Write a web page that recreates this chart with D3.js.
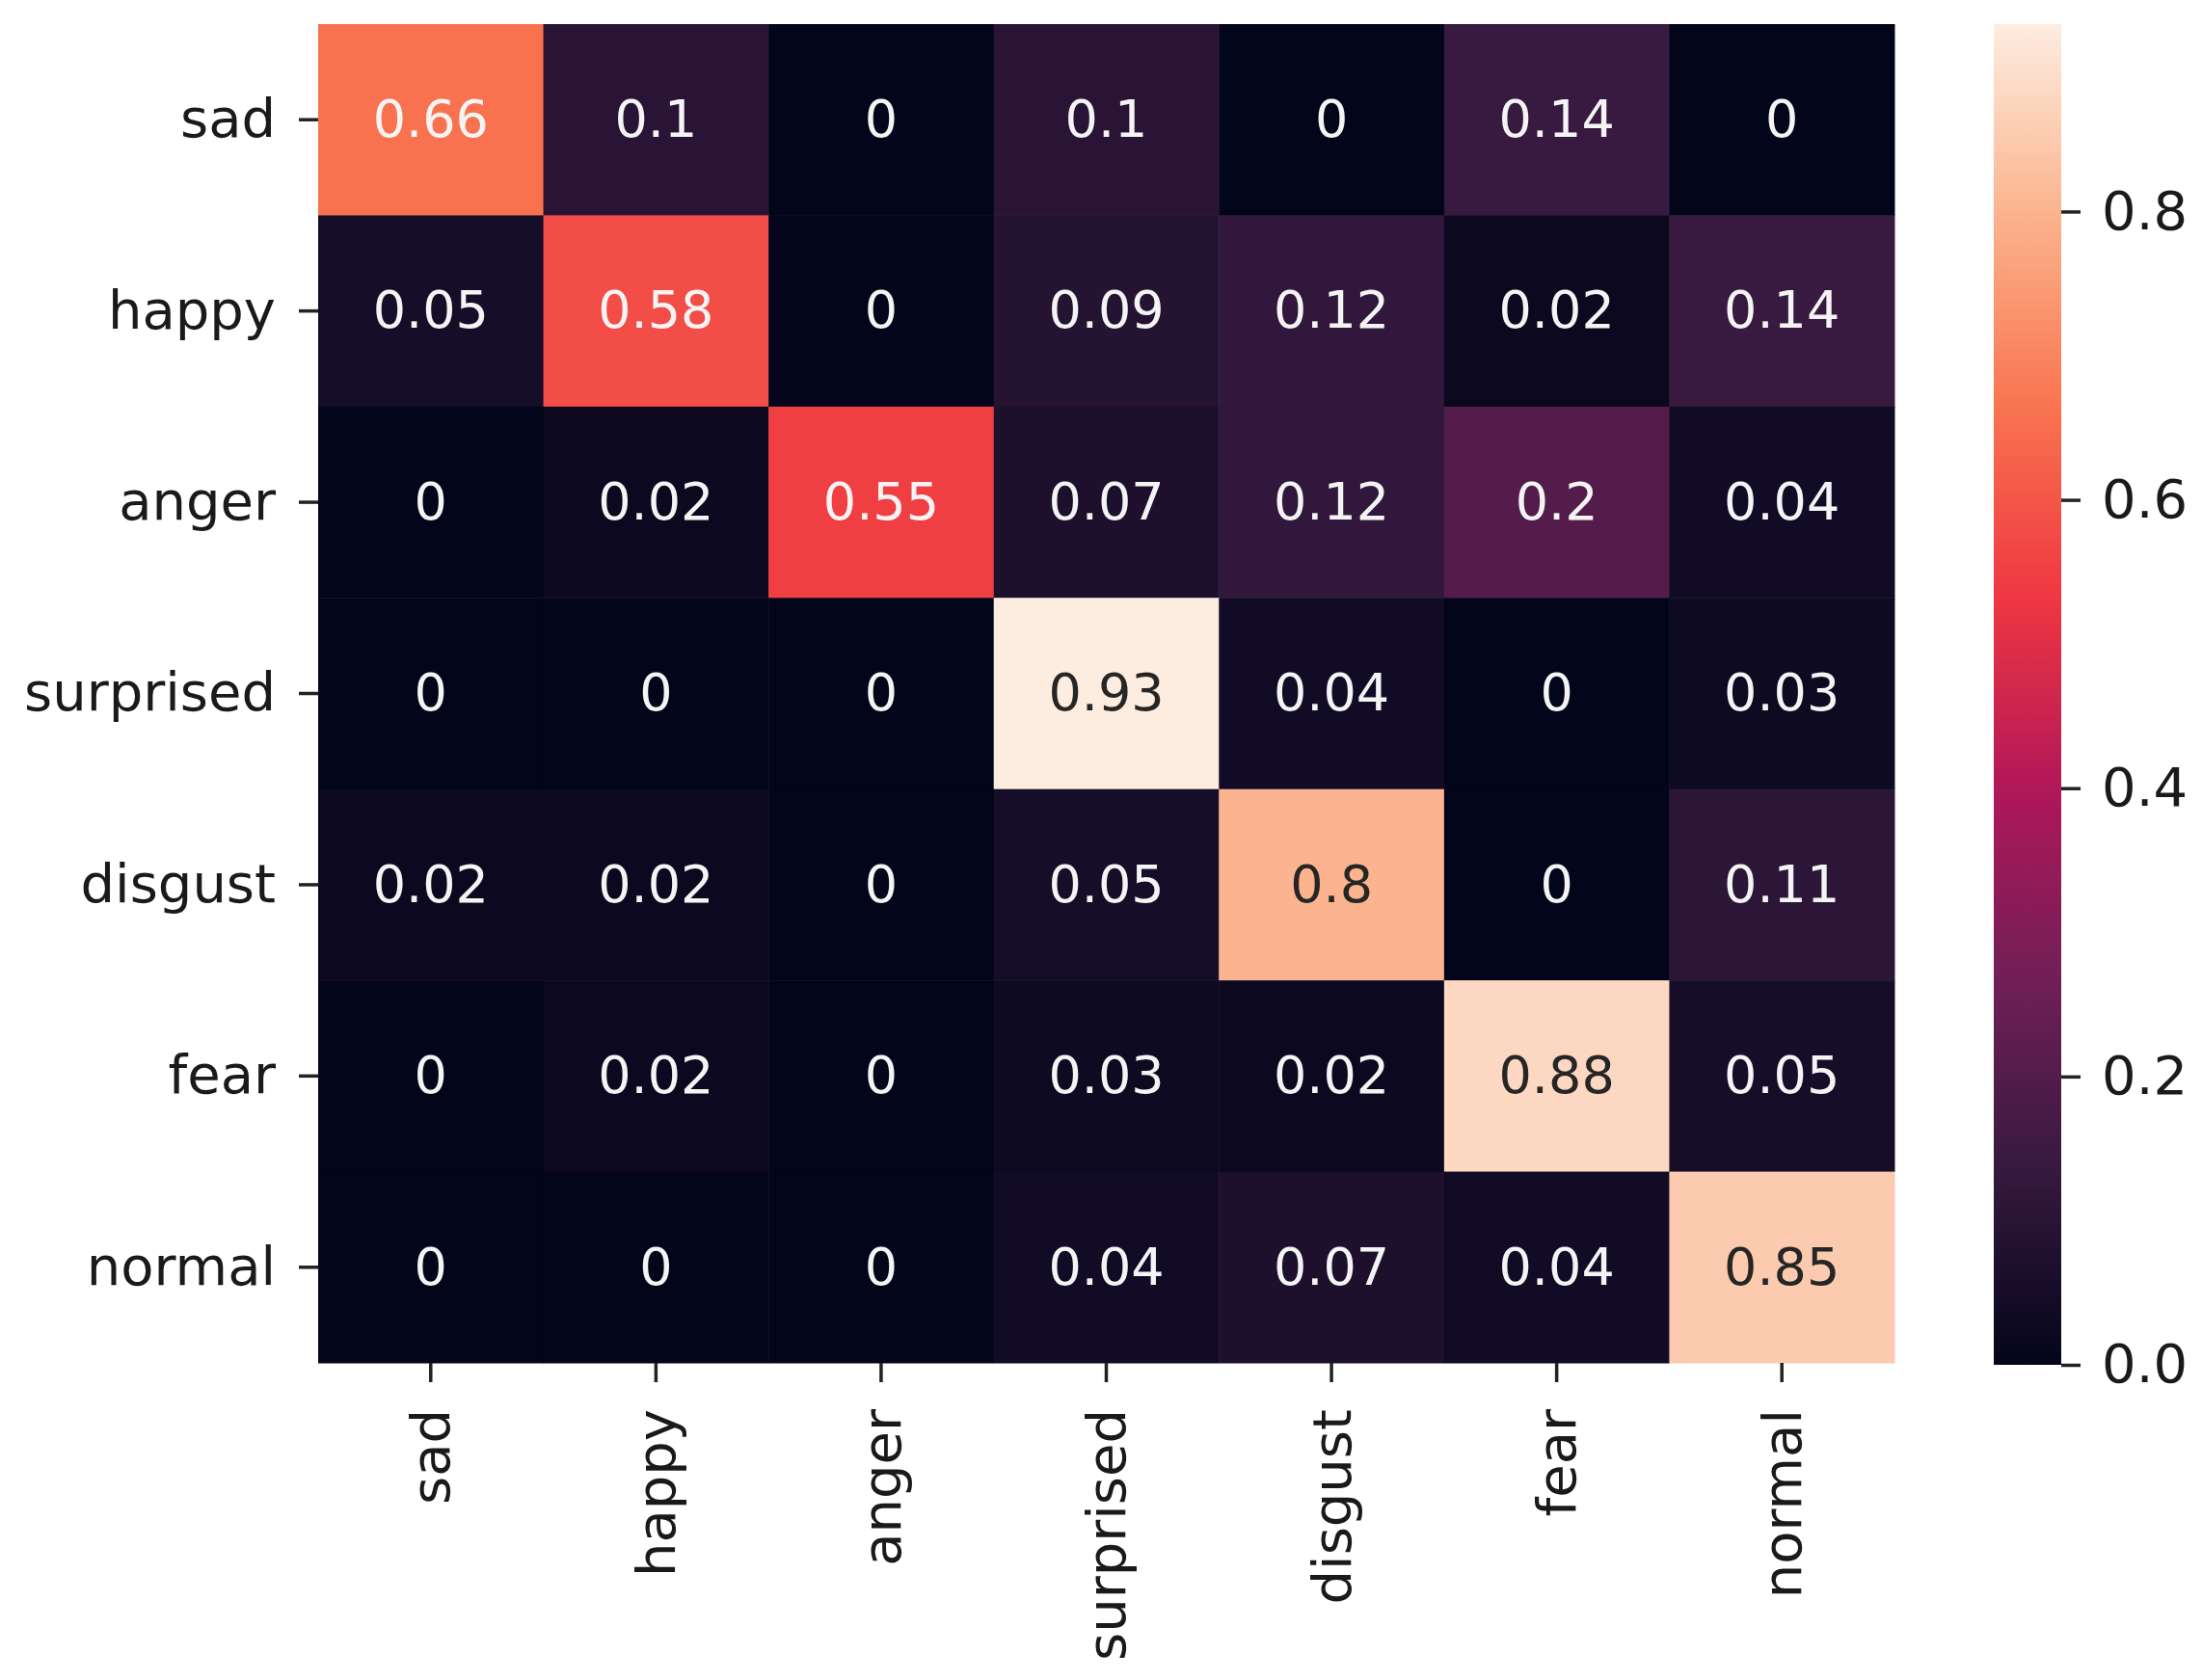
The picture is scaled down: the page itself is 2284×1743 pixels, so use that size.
<!DOCTYPE html>
<html>
<head>
<meta charset="utf-8">
<script src="https://cdn.jsdelivr.net/npm/d3@7"></script>
<style>
  body { margin: 0; background: #fff; }
  text { font-family: "DejaVu Sans", sans-serif; }
</style>
</head>
<body>
<div id="chart"></div>
<script>
// labels for rows (true) and columns (predicted)
var rowLabels = ["sad", "happy", "anger", "surprised", "disgust", "fear", "normal"];
var colLabels = ["sad", "happy", "anger", "surprised", "disgust", "fear", "normal"];

// confusion values, one array per row
var sadRow       = [0.66, 0.1, 0, 0.1, 0, 0.14, 0];
var happyRow     = [0.05, 0.58, 0, 0.09, 0.12, 0.02, 0.14];
var angerRow     = [0, 0.02, 0.55, 0.07, 0.12, 0.2, 0.04];
var surprisedRow = [0, 0, 0, 0.93, 0.04, 0, 0.03];
var disgustRow   = [0.02, 0.02, 0, 0.05, 0.8, 0, 0.11];
var fearRow      = [0, 0.02, 0, 0.03, 0.02, 0.88, 0.05];
var normalRow    = [0, 0, 0, 0.04, 0.07, 0.04, 0.85];
var matrix = [sadRow, happyRow, angerRow, surprisedRow, disgustRow, fearRow, normalRow];

var cbarTicks = [0, 0.2, 0.4, 0.6, 0.8];
var vmax = 0.93;

// rocket colormap (seaborn) approximated by a few stops
var rocket = ["#03051a", "#35193e", "#701f57", "#b01759", "#ef3641", "#f8744f", "#fbb38d", "#fdede0"];

var width = 2284, height = 1743;
var fontSize = 54;
var tickFont = 56;

var svg = d3.select("#chart").append("svg")
  .attr("width", width)
  .attr("height", height);

svg.append("rect").attr("width", width).attr("height", height).attr("fill", "#fff");

var plotLeft = 330, plotRight = 1965, plotTop = 25, plotBottom = 1414;

var x = d3.scaleBand().domain(colLabels).range([plotLeft, plotRight]);
var y = d3.scaleBand().domain(rowLabels).range([plotTop, plotBottom]);

var color = d3.scaleLinear()
  .domain(d3.range(rocket.length).map(function(i) { return vmax * i / (rocket.length - 1); }))
  .range(rocket)
  .interpolate(d3.interpolateRgb)
  .clamp(true);

// flatten into cells
var cells = [];
matrix.forEach(function(row, i) {
  row.forEach(function(v, j) {
    cells.push({ r: rowLabels[i], c: colLabels[j], v: v });
  });
});

svg.selectAll("rect.cell")
  .data(cells)
  .enter()
  .append("rect")
  .attr("class", "cell")
  .attr("x", function(d) { return x(d.c); })
  .attr("y", function(d) { return y(d.r); })
  .attr("width", x.bandwidth() + 0.5)
  .attr("height", y.bandwidth() + 0.5)
  .attr("fill", function(d) { return color(d.v); });

function lin(u) {
  u = u / 255;
  return u <= 0.03928 ? u / 12.92 : Math.pow((u + 0.055) / 1.055, 2.4);
}

// annotations, dark text on light cells like seaborn does
svg.selectAll("text.annot")
  .data(cells)
  .enter()
  .append("text")
  .attr("class", "annot")
  .attr("x", function(d) { return x(d.c) + x.bandwidth() / 2; })
  .attr("y", function(d) { return y(d.r) + y.bandwidth() / 2; })
  .attr("dy", "0.33em")
  .attr("text-anchor", "middle")
  .attr("font-size", fontSize)
  .attr("fill", function(d) {
    var c = d3.rgb(color(d.v));
    var lum = 0.2126 * lin(c.r) + 0.7152 * lin(c.g) + 0.0722 * lin(c.b);
    return lum > 0.408 ? "#262626" : "#f4f4f4";
  })
  .text(function(d) { return String(d.v); });

// y axis
var yAxis = svg.append("g")
  .attr("transform", "translate(" + plotLeft + ",0)")
  .call(d3.axisLeft(y).tickSize(20).tickPadding(24));
yAxis.select(".domain").remove();
yAxis.selectAll("line").attr("stroke", "#222").attr("stroke-width", 3.5);
yAxis.selectAll("text")
  .attr("font-size", tickFont)
  .attr("font-family", "DejaVu Sans")
  .attr("fill", "#1a1a1a");

// x axis, rotated labels
var xAxis = svg.append("g")
  .attr("transform", "translate(0," + plotBottom + ")")
  .call(d3.axisBottom(x).tickSize(20).tickPadding(0));
xAxis.select(".domain").remove();
xAxis.selectAll("line").attr("stroke", "#222").attr("stroke-width", 3.5);
xAxis.selectAll("text")
  .attr("font-size", tickFont)
  .attr("font-family", "DejaVu Sans")
  .attr("fill", "#1a1a1a")
  .attr("text-anchor", "end")
  .attr("transform", "translate(0,48) rotate(-90)")
  .attr("x", 0)
  .attr("y", 0)
  .attr("dy", "0.35em");

// colorbar
var cbLeft = 2068, cbWidth = 70, cbTop = 25, cbBottom = 1416;
var cbScale = d3.scaleLinear().domain([0, vmax]).range([cbBottom, cbTop]);

var grad = svg.append("defs").append("linearGradient")
  .attr("id", "cbgrad")
  .attr("x1", 0).attr("y1", 1).attr("x2", 0).attr("y2", 0);
grad.selectAll("stop")
  .data(d3.range(0, 1.0001, 0.02))
  .enter()
  .append("stop")
  .attr("offset", function(d) { return d; })
  .attr("stop-color", function(d) { return color(d * vmax); });

svg.append("rect")
  .attr("x", cbLeft)
  .attr("y", cbTop)
  .attr("width", cbWidth)
  .attr("height", cbBottom - cbTop)
  .attr("fill", "url(#cbgrad)");

var cbAxis = svg.append("g")
  .attr("transform", "translate(" + (cbLeft + cbWidth) + ",0)")
  .call(d3.axisRight(cbScale).tickValues(cbarTicks).tickFormat(d3.format(".1f")).tickSize(20).tickPadding(22));
cbAxis.select(".domain").remove();
cbAxis.selectAll("line").attr("stroke", "#222").attr("stroke-width", 3.5);
cbAxis.selectAll("text")
  .attr("font-size", tickFont)
  .attr("font-family", "DejaVu Sans")
  .attr("fill", "#1a1a1a");
</script>
</body>
</html>
